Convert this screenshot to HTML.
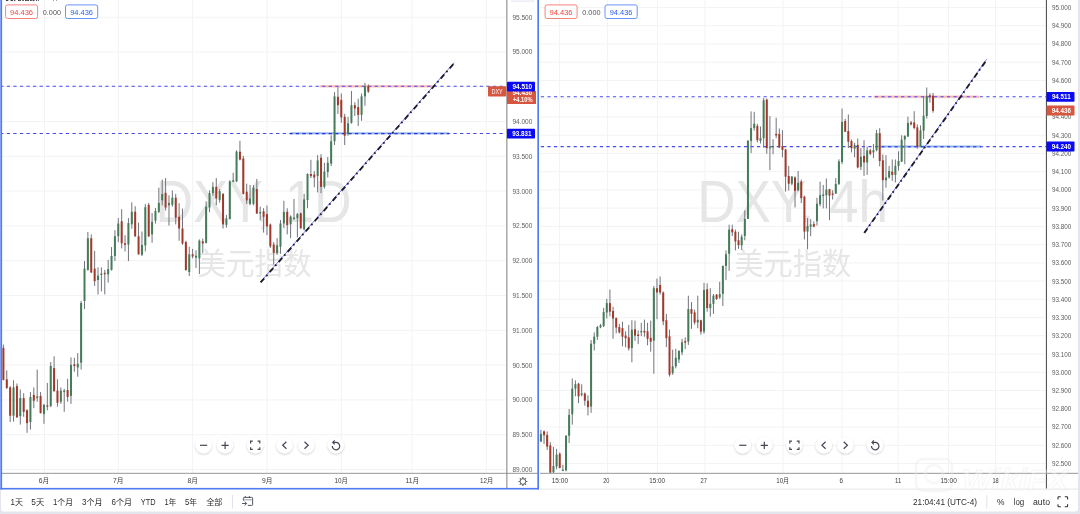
<!DOCTYPE html>
<html lang="zh"><head><meta charset="utf-8"><title>DXY</title>
<style>
html,body{margin:0;padding:0;background:#fff;}
body{width:1080px;height:514px;overflow:hidden;position:relative;}
svg{display:block;position:absolute;left:0;top:0;will-change:transform;}
text{font-family:"Liberation Sans","Noto Sans CJK SC",sans-serif;}
</style></head><body>
<svg width="1080" height="514" viewBox="0 0 1080 514">
<defs>
<filter id="sh" x="-30%" y="-30%" width="160%" height="170%"><feGaussianBlur in="SourceAlpha" stdDeviation="1"/><feOffset dy="0.8"/><feComponentTransfer><feFuncA type="linear" slope="0.22"/></feComponentTransfer><feMerge><feMergeNode/><feMergeNode in="SourceGraphic"/></feMerge></filter>
<filter id="bl"><feGaussianBlur stdDeviation="0.35"/></filter>
<clipPath id="cl1"><rect x="290" y="130" width="159" height="6"/></clipPath><clipPath id="cl2"><rect x="878.6" y="143" width="103" height="6"/></clipPath>
</defs>
<rect x="0" y="0" width="1080" height="514" fill="#e3e6ec"/>
<path d="M0 0H1078V508.5a3 3 0 0 1-3 3H4a3 3 0 0 1-3-3V490H0Z" fill="#fff"/>

<g id="left">
<rect x="44.0" y="0" width="1" height="473" fill="#f3f3f3"/>
<rect x="117.8" y="0" width="1" height="473" fill="#f3f3f3"/>
<rect x="192.1" y="0" width="1" height="473" fill="#f3f3f3"/>
<rect x="266.6" y="0" width="1" height="473" fill="#f3f3f3"/>
<rect x="340.8" y="0" width="1" height="473" fill="#f3f3f3"/>
<rect x="411.6" y="0" width="1" height="473" fill="#f3f3f3"/>
<rect x="485.8" y="0" width="1" height="473" fill="#f3f3f3"/>
<rect x="2" y="16.7" width="504" height="1" fill="#f3f3f3"/>
<rect x="2" y="51.5" width="504" height="1" fill="#f3f3f3"/>
<rect x="2" y="86.3" width="504" height="1" fill="#f3f3f3"/>
<rect x="2" y="121.1" width="504" height="1" fill="#f3f3f3"/>
<rect x="2" y="155.9" width="504" height="1" fill="#f3f3f3"/>
<rect x="2" y="190.6" width="504" height="1" fill="#f3f3f3"/>
<rect x="2" y="225.4" width="504" height="1" fill="#f3f3f3"/>
<rect x="2" y="260.2" width="504" height="1" fill="#f3f3f3"/>
<rect x="2" y="295.0" width="504" height="1" fill="#f3f3f3"/>
<rect x="2" y="329.8" width="504" height="1" fill="#f3f3f3"/>
<rect x="2" y="364.6" width="504" height="1" fill="#f3f3f3"/>
<rect x="2" y="399.4" width="504" height="1" fill="#f3f3f3"/>
<rect x="2" y="434.2" width="504" height="1" fill="#f3f3f3"/>
<rect x="2" y="469.0" width="504" height="1" fill="#f3f3f3"/>
<text x="155.6" y="222" font-size="59" fill="#e6e6e6" text-anchor="start" font-weight="normal" textLength="196" lengthAdjust="spacingAndGlyphs">DXY, 1D</text>
<text x="197.6" y="274.2" font-size="30" fill="#e6e6e6" text-anchor="start" font-weight="normal" textLength="114" lengthAdjust="spacingAndGlyphs">美元指数</text>
<rect x="319.5" y="85.2" width="114.5" height="2.2" fill="#fbb9b3"/>
<line x1="2" y1="86.3" x2="506" y2="86.3" stroke="#4848f2" stroke-width="1.05" stroke-dasharray="3.3 3.27" stroke-dashoffset="-4.73"/>
<line x1="2" y1="133.4" x2="506" y2="133.4" stroke="#4848f2" stroke-width="1.05" stroke-dasharray="3.3 3.27" stroke-dashoffset="-4.73"/>
<rect x="290" y="132.3" width="159" height="2.0" fill="#8db6ee"/>
<line x1="2" y1="133.6" x2="449" y2="133.6" stroke="#2f2fe0" stroke-width="1.1" stroke-dasharray="3.3 3.27" stroke-dashoffset="-4.73" clip-path="url(#cl1)"/>
<rect x="2.90" y="344.6" width="1" height="35.8" fill="#70747b"/>
<rect x="2.40" y="347.8" width="2.0" height="32.1" fill="#a3382a"/>
<rect x="6.28" y="370.3" width="1" height="18.6" fill="#70747b"/>
<rect x="5.78" y="379.3" width="2.0" height="8.6" fill="#a3382a"/>
<rect x="9.66" y="386.1" width="1" height="36.0" fill="#70747b"/>
<rect x="9.16" y="387.4" width="2.0" height="28.3" fill="#a3382a"/>
<rect x="13.04" y="380.3" width="1" height="41.3" fill="#70747b"/>
<rect x="12.54" y="387.4" width="2.0" height="28.3" fill="#447c5a"/>
<rect x="16.42" y="383.5" width="1" height="34.3" fill="#70747b"/>
<rect x="15.92" y="386.1" width="2.0" height="31.3" fill="#a3382a"/>
<rect x="19.79" y="389.5" width="1" height="35.1" fill="#70747b"/>
<rect x="19.29" y="398.1" width="2.0" height="18.0" fill="#447c5a"/>
<rect x="23.17" y="393.2" width="1" height="23.6" fill="#70747b"/>
<rect x="22.67" y="398.1" width="2.0" height="13.7" fill="#a3382a"/>
<rect x="26.55" y="409.2" width="1" height="23.6" fill="#70747b"/>
<rect x="26.05" y="410.3" width="2.0" height="12.8" fill="#a3382a"/>
<rect x="29.93" y="392.1" width="1" height="37.5" fill="#70747b"/>
<rect x="29.43" y="397.0" width="2.0" height="25.1" fill="#447c5a"/>
<rect x="33.31" y="387.4" width="1" height="20.8" fill="#70747b"/>
<rect x="32.81" y="394.9" width="2.0" height="5.8" fill="#a3382a"/>
<rect x="36.69" y="369.6" width="1" height="32.1" fill="#70747b"/>
<rect x="36.19" y="396.4" width="2.0" height="1.7" fill="#447c5a"/>
<rect x="40.07" y="392.1" width="1" height="21.4" fill="#70747b"/>
<rect x="39.57" y="396.0" width="2.0" height="17.1" fill="#a3382a"/>
<rect x="43.45" y="403.9" width="1" height="19.9" fill="#70747b"/>
<rect x="42.95" y="404.9" width="2.0" height="9.2" fill="#447c5a"/>
<rect x="46.83" y="382.9" width="1" height="27.4" fill="#70747b"/>
<rect x="46.33" y="405.4" width="2.0" height="1.3" fill="#a3382a"/>
<rect x="50.21" y="362.1" width="1" height="45.0" fill="#70747b"/>
<rect x="49.71" y="366.0" width="2.0" height="40.0" fill="#447c5a"/>
<rect x="53.59" y="356.3" width="1" height="35.8" fill="#70747b"/>
<rect x="53.09" y="368.1" width="2.0" height="22.9" fill="#a3382a"/>
<rect x="56.96" y="379.3" width="1" height="27.4" fill="#70747b"/>
<rect x="56.46" y="390.6" width="2.0" height="12.2" fill="#a3382a"/>
<rect x="60.34" y="387.4" width="1" height="16.5" fill="#70747b"/>
<rect x="59.84" y="390.6" width="2.0" height="11.1" fill="#447c5a"/>
<rect x="63.72" y="388.9" width="1" height="22.9" fill="#70747b"/>
<rect x="63.22" y="390.6" width="2.0" height="1.5" fill="#447c5a"/>
<rect x="67.10" y="378.8" width="1" height="22.9" fill="#70747b"/>
<rect x="66.60" y="390.0" width="2.0" height="6.9" fill="#a3382a"/>
<rect x="70.48" y="357.4" width="1" height="46.5" fill="#70747b"/>
<rect x="69.98" y="364.9" width="2.0" height="31.0" fill="#447c5a"/>
<rect x="73.86" y="357.8" width="1" height="13.9" fill="#70747b"/>
<rect x="73.36" y="364.3" width="2.0" height="1.7" fill="#a3382a"/>
<rect x="77.24" y="353.1" width="1" height="23.6" fill="#70747b"/>
<rect x="76.74" y="363.8" width="2.0" height="3.6" fill="#447c5a"/>
<rect x="80.62" y="301.0" width="1" height="68.6" fill="#70747b"/>
<rect x="80.12" y="303.0" width="2.0" height="59.7" fill="#447c5a"/>
<rect x="84.00" y="261.0" width="1" height="48.0" fill="#70747b"/>
<rect x="83.50" y="268.6" width="2.0" height="32.4" fill="#447c5a"/>
<rect x="87.38" y="232.0" width="1" height="38.7" fill="#70747b"/>
<rect x="86.88" y="238.3" width="2.0" height="31.6" fill="#447c5a"/>
<rect x="90.75" y="234.5" width="1" height="38.7" fill="#70747b"/>
<rect x="90.25" y="238.3" width="2.0" height="34.1" fill="#a3382a"/>
<rect x="94.13" y="250.9" width="1" height="34.9" fill="#70747b"/>
<rect x="93.63" y="268.6" width="2.0" height="12.6" fill="#a3382a"/>
<rect x="97.51" y="267.4" width="1" height="27.1" fill="#70747b"/>
<rect x="97.01" y="275.7" width="2.0" height="4.3" fill="#447c5a"/>
<rect x="100.89" y="267.4" width="1" height="24.0" fill="#70747b"/>
<rect x="100.39" y="273.7" width="2.0" height="1.3" fill="#447c5a"/>
<rect x="104.27" y="269.9" width="1" height="24.5" fill="#70747b"/>
<rect x="103.77" y="272.9" width="2.0" height="1.3" fill="#a3382a"/>
<rect x="107.65" y="259.8" width="1" height="22.8" fill="#70747b"/>
<rect x="107.15" y="269.1" width="2.0" height="5.3" fill="#447c5a"/>
<rect x="111.03" y="247.1" width="1" height="23.5" fill="#70747b"/>
<rect x="110.53" y="256.0" width="2.0" height="13.9" fill="#447c5a"/>
<rect x="114.41" y="230.2" width="1" height="30.9" fill="#70747b"/>
<rect x="113.91" y="236.3" width="2.0" height="19.7" fill="#447c5a"/>
<rect x="117.79" y="218.1" width="1" height="24.0" fill="#70747b"/>
<rect x="117.29" y="223.6" width="2.0" height="12.6" fill="#447c5a"/>
<rect x="121.17" y="209.2" width="1" height="39.2" fill="#70747b"/>
<rect x="120.67" y="221.3" width="2.0" height="22.0" fill="#a3382a"/>
<rect x="124.54" y="235.3" width="1" height="16.2" fill="#70747b"/>
<rect x="124.04" y="243.3" width="2.0" height="1.5" fill="#a3382a"/>
<rect x="127.92" y="218.1" width="1" height="43.0" fill="#70747b"/>
<rect x="127.42" y="223.1" width="2.0" height="21.5" fill="#447c5a"/>
<rect x="131.30" y="202.4" width="1" height="26.3" fill="#70747b"/>
<rect x="130.80" y="211.7" width="2.0" height="12.6" fill="#447c5a"/>
<rect x="134.68" y="206.2" width="1" height="30.9" fill="#70747b"/>
<rect x="134.18" y="211.7" width="2.0" height="24.5" fill="#a3382a"/>
<rect x="138.06" y="222.6" width="1" height="32.1" fill="#70747b"/>
<rect x="137.56" y="236.3" width="2.0" height="18.0" fill="#a3382a"/>
<rect x="141.44" y="231.5" width="1" height="24.5" fill="#70747b"/>
<rect x="140.94" y="244.9" width="2.0" height="9.9" fill="#447c5a"/>
<rect x="144.82" y="204.1" width="1" height="47.3" fill="#70747b"/>
<rect x="144.32" y="207.2" width="2.0" height="38.2" fill="#447c5a"/>
<rect x="148.20" y="202.9" width="1" height="34.1" fill="#70747b"/>
<rect x="147.70" y="204.9" width="2.0" height="31.4" fill="#a3382a"/>
<rect x="151.58" y="213.0" width="1" height="29.8" fill="#70747b"/>
<rect x="151.08" y="221.8" width="2.0" height="12.6" fill="#447c5a"/>
<rect x="154.96" y="207.9" width="1" height="15.7" fill="#70747b"/>
<rect x="154.46" y="211.0" width="2.0" height="9.6" fill="#447c5a"/>
<rect x="158.33" y="187.7" width="1" height="25.3" fill="#70747b"/>
<rect x="157.83" y="202.9" width="2.0" height="8.9" fill="#447c5a"/>
<rect x="161.71" y="179.6" width="1" height="25.8" fill="#70747b"/>
<rect x="161.21" y="194.0" width="2.0" height="6.3" fill="#447c5a"/>
<rect x="165.09" y="178.1" width="1" height="32.4" fill="#70747b"/>
<rect x="164.59" y="192.8" width="2.0" height="14.7" fill="#a3382a"/>
<rect x="168.47" y="195.3" width="1" height="30.3" fill="#70747b"/>
<rect x="167.97" y="202.9" width="2.0" height="2.5" fill="#447c5a"/>
<rect x="171.85" y="190.4" width="1" height="16.3" fill="#70747b"/>
<rect x="171.35" y="197.7" width="2.0" height="7.1" fill="#447c5a"/>
<rect x="175.23" y="193.9" width="1" height="30.5" fill="#70747b"/>
<rect x="174.73" y="197.7" width="2.0" height="19.9" fill="#a3382a"/>
<rect x="178.61" y="203.2" width="1" height="37.6" fill="#70747b"/>
<rect x="178.11" y="216.8" width="2.0" height="11.7" fill="#a3382a"/>
<rect x="181.99" y="208.6" width="1" height="36.2" fill="#70747b"/>
<rect x="181.49" y="228.5" width="2.0" height="15.0" fill="#a3382a"/>
<rect x="185.37" y="240.7" width="1" height="29.9" fill="#70747b"/>
<rect x="184.87" y="242.1" width="2.0" height="28.0" fill="#a3382a"/>
<rect x="188.75" y="246.7" width="1" height="29.4" fill="#70747b"/>
<rect x="188.25" y="254.3" width="2.0" height="17.7" fill="#447c5a"/>
<rect x="192.12" y="248.9" width="1" height="9.5" fill="#70747b"/>
<rect x="191.62" y="254.3" width="2.0" height="2.2" fill="#a3382a"/>
<rect x="195.50" y="250.3" width="1" height="17.7" fill="#70747b"/>
<rect x="195.00" y="255.7" width="2.0" height="1.9" fill="#447c5a"/>
<rect x="198.88" y="239.4" width="1" height="34.6" fill="#70747b"/>
<rect x="198.38" y="240.7" width="2.0" height="17.7" fill="#447c5a"/>
<rect x="202.26" y="238.6" width="1" height="14.4" fill="#70747b"/>
<rect x="201.76" y="241.3" width="2.0" height="2.2" fill="#a3382a"/>
<rect x="205.64" y="201.3" width="1" height="42.2" fill="#70747b"/>
<rect x="205.14" y="206.7" width="2.0" height="36.2" fill="#447c5a"/>
<rect x="209.02" y="190.4" width="1" height="21.8" fill="#70747b"/>
<rect x="208.52" y="193.1" width="2.0" height="14.4" fill="#447c5a"/>
<rect x="212.40" y="182.2" width="1" height="13.6" fill="#70747b"/>
<rect x="211.90" y="186.8" width="2.0" height="6.3" fill="#447c5a"/>
<rect x="215.78" y="178.1" width="1" height="27.2" fill="#70747b"/>
<rect x="215.28" y="186.8" width="2.0" height="11.7" fill="#a3382a"/>
<rect x="219.16" y="189.0" width="1" height="13.6" fill="#70747b"/>
<rect x="218.66" y="191.2" width="2.0" height="8.7" fill="#447c5a"/>
<rect x="222.53" y="193.1" width="1" height="35.4" fill="#70747b"/>
<rect x="222.03" y="193.9" width="2.0" height="30.5" fill="#a3382a"/>
<rect x="225.91" y="214.9" width="1" height="12.8" fill="#70747b"/>
<rect x="225.41" y="218.4" width="2.0" height="6.5" fill="#447c5a"/>
<rect x="229.29" y="180.3" width="1" height="39.2" fill="#70747b"/>
<rect x="228.79" y="181.4" width="2.0" height="37.6" fill="#447c5a"/>
<rect x="232.67" y="172.7" width="1" height="9.5" fill="#70747b"/>
<rect x="232.17" y="180.3" width="2.0" height="1.4" fill="#447c5a"/>
<rect x="236.05" y="150.3" width="1" height="31.9" fill="#70747b"/>
<rect x="235.55" y="151.7" width="2.0" height="29.7" fill="#447c5a"/>
<rect x="239.43" y="140.8" width="1" height="19.6" fill="#70747b"/>
<rect x="238.93" y="151.7" width="2.0" height="7.9" fill="#a3382a"/>
<rect x="242.81" y="155.8" width="1" height="38.7" fill="#70747b"/>
<rect x="242.31" y="158.5" width="2.0" height="35.4" fill="#a3382a"/>
<rect x="246.19" y="183.6" width="1" height="20.4" fill="#70747b"/>
<rect x="245.69" y="191.7" width="2.0" height="8.7" fill="#a3382a"/>
<rect x="249.57" y="184.9" width="1" height="20.4" fill="#70747b"/>
<rect x="249.07" y="198.5" width="2.0" height="5.4" fill="#447c5a"/>
<rect x="252.95" y="184.9" width="1" height="20.4" fill="#70747b"/>
<rect x="252.45" y="187.6" width="2.0" height="16.3" fill="#447c5a"/>
<rect x="256.32" y="178.9" width="1" height="35.1" fill="#70747b"/>
<rect x="255.82" y="189.0" width="2.0" height="24.5" fill="#a3382a"/>
<rect x="259.70" y="206.7" width="1" height="13.6" fill="#70747b"/>
<rect x="259.20" y="212.1" width="2.0" height="1.4" fill="#447c5a"/>
<rect x="263.08" y="208.1" width="1" height="24.5" fill="#70747b"/>
<rect x="262.58" y="211.3" width="2.0" height="5.4" fill="#a3382a"/>
<rect x="266.46" y="205.5" width="1" height="29.6" fill="#70747b"/>
<rect x="265.96" y="214.1" width="2.0" height="12.4" fill="#a3382a"/>
<rect x="269.84" y="223.5" width="1" height="24.5" fill="#70747b"/>
<rect x="269.34" y="224.6" width="2.0" height="21.7" fill="#a3382a"/>
<rect x="273.22" y="242.1" width="1" height="22.6" fill="#70747b"/>
<rect x="272.72" y="244.5" width="2.0" height="8.2" fill="#a3382a"/>
<rect x="276.60" y="238.2" width="1" height="16.8" fill="#70747b"/>
<rect x="276.10" y="245.2" width="2.0" height="7.9" fill="#447c5a"/>
<rect x="279.98" y="220.0" width="1" height="33.8" fill="#70747b"/>
<rect x="279.48" y="223.5" width="2.0" height="23.3" fill="#447c5a"/>
<rect x="283.36" y="200.8" width="1" height="27.3" fill="#70747b"/>
<rect x="282.86" y="211.8" width="2.0" height="11.7" fill="#447c5a"/>
<rect x="286.74" y="208.3" width="1" height="26.1" fill="#70747b"/>
<rect x="286.24" y="211.8" width="2.0" height="13.3" fill="#a3382a"/>
<rect x="290.11" y="215.3" width="1" height="22.9" fill="#70747b"/>
<rect x="289.61" y="216.5" width="2.0" height="7.7" fill="#447c5a"/>
<rect x="293.49" y="199.0" width="1" height="21.0" fill="#70747b"/>
<rect x="292.99" y="217.5" width="2.0" height="1.2" fill="#447c5a"/>
<rect x="296.87" y="213.0" width="1" height="24.5" fill="#70747b"/>
<rect x="296.37" y="214.1" width="2.0" height="4.0" fill="#447c5a"/>
<rect x="300.25" y="212.5" width="1" height="16.8" fill="#70747b"/>
<rect x="299.75" y="213.4" width="2.0" height="14.7" fill="#a3382a"/>
<rect x="303.63" y="193.8" width="1" height="36.6" fill="#70747b"/>
<rect x="303.13" y="199.4" width="2.0" height="29.9" fill="#447c5a"/>
<rect x="307.01" y="173.3" width="1" height="35.0" fill="#70747b"/>
<rect x="306.51" y="174.0" width="2.0" height="26.1" fill="#447c5a"/>
<rect x="310.39" y="159.8" width="1" height="18.2" fill="#70747b"/>
<rect x="309.89" y="174.0" width="2.0" height="2.1" fill="#a3382a"/>
<rect x="313.77" y="171.0" width="1" height="16.3" fill="#70747b"/>
<rect x="313.27" y="174.5" width="2.0" height="3.0" fill="#a3382a"/>
<rect x="317.15" y="155.1" width="1" height="37.3" fill="#70747b"/>
<rect x="316.65" y="160.5" width="2.0" height="15.6" fill="#447c5a"/>
<rect x="320.53" y="154.2" width="1" height="39.0" fill="#70747b"/>
<rect x="320.03" y="157.7" width="2.0" height="29.2" fill="#a3382a"/>
<rect x="323.90" y="162.8" width="1" height="25.7" fill="#70747b"/>
<rect x="323.40" y="171.5" width="2.0" height="15.4" fill="#447c5a"/>
<rect x="327.28" y="157.0" width="1" height="20.5" fill="#70747b"/>
<rect x="326.78" y="162.8" width="2.0" height="9.3" fill="#447c5a"/>
<rect x="330.66" y="135.3" width="1" height="30.8" fill="#70747b"/>
<rect x="330.16" y="141.2" width="2.0" height="22.4" fill="#447c5a"/>
<rect x="334.04" y="92.1" width="1" height="52.9" fill="#70747b"/>
<rect x="333.54" y="96.4" width="2.0" height="44.8" fill="#447c5a"/>
<rect x="337.42" y="87.1" width="1" height="26.9" fill="#70747b"/>
<rect x="336.92" y="96.8" width="2.0" height="8.4" fill="#a3382a"/>
<rect x="340.80" y="93.5" width="1" height="29.2" fill="#70747b"/>
<rect x="340.30" y="99.9" width="2.0" height="17.5" fill="#a3382a"/>
<rect x="344.18" y="113.9" width="1" height="31.1" fill="#70747b"/>
<rect x="343.68" y="116.8" width="2.0" height="18.9" fill="#a3382a"/>
<rect x="347.56" y="116.8" width="1" height="18.9" fill="#70747b"/>
<rect x="347.06" y="123.3" width="2.0" height="10.5" fill="#447c5a"/>
<rect x="350.94" y="91.0" width="1" height="32.7" fill="#70747b"/>
<rect x="350.44" y="105.2" width="2.0" height="17.5" fill="#447c5a"/>
<rect x="354.32" y="102.3" width="1" height="13.6" fill="#70747b"/>
<rect x="353.82" y="105.2" width="2.0" height="3.3" fill="#a3382a"/>
<rect x="357.69" y="98.7" width="1" height="27.3" fill="#70747b"/>
<rect x="357.19" y="107.1" width="2.0" height="7.8" fill="#a3382a"/>
<rect x="361.07" y="93.5" width="1" height="27.3" fill="#70747b"/>
<rect x="360.57" y="96.4" width="2.0" height="18.5" fill="#447c5a"/>
<rect x="364.45" y="82.8" width="1" height="23.0" fill="#70747b"/>
<rect x="363.95" y="86.3" width="2.0" height="10.1" fill="#447c5a"/>
<rect x="367.83" y="84.3" width="1" height="8.6" fill="#70747b"/>
<rect x="367.33" y="86.3" width="2.0" height="5.3" fill="#a3382a"/>
<line x1="260.3" y1="282.1" x2="454.2" y2="62.6" stroke="#7575f6" stroke-width="1.0"/>
<line x1="260.6" y1="282.4" x2="454.5" y2="62.9" stroke="#1c1c28" stroke-width="1.85" stroke-dasharray="5.5 3.0 1.7 3.4"/>
</g>
<g id="right">
<rect x="559.0" y="0" width="1" height="473" fill="#f3f3f3"/>
<rect x="607.0" y="0" width="1" height="473" fill="#f3f3f3"/>
<rect x="657.0" y="0" width="1" height="473" fill="#f3f3f3"/>
<rect x="704.5" y="0" width="1" height="473" fill="#f3f3f3"/>
<rect x="782.5" y="0" width="1" height="473" fill="#f3f3f3"/>
<rect x="841.5" y="0" width="1" height="473" fill="#f3f3f3"/>
<rect x="897.6" y="0" width="1" height="473" fill="#f3f3f3"/>
<rect x="948.1" y="0" width="1" height="473" fill="#f3f3f3"/>
<rect x="995.0" y="0" width="1" height="473" fill="#f3f3f3"/>
<rect x="540" y="7.0" width="506" height="1" fill="#f3f3f3"/>
<rect x="540" y="25.2" width="506" height="1" fill="#f3f3f3"/>
<rect x="540" y="43.5" width="506" height="1" fill="#f3f3f3"/>
<rect x="540" y="61.7" width="506" height="1" fill="#f3f3f3"/>
<rect x="540" y="80.0" width="506" height="1" fill="#f3f3f3"/>
<rect x="540" y="98.2" width="506" height="1" fill="#f3f3f3"/>
<rect x="540" y="116.4" width="506" height="1" fill="#f3f3f3"/>
<rect x="540" y="134.7" width="506" height="1" fill="#f3f3f3"/>
<rect x="540" y="152.9" width="506" height="1" fill="#f3f3f3"/>
<rect x="540" y="171.2" width="506" height="1" fill="#f3f3f3"/>
<rect x="540" y="189.4" width="506" height="1" fill="#f3f3f3"/>
<rect x="540" y="207.6" width="506" height="1" fill="#f3f3f3"/>
<rect x="540" y="225.9" width="506" height="1" fill="#f3f3f3"/>
<rect x="540" y="244.1" width="506" height="1" fill="#f3f3f3"/>
<rect x="540" y="262.4" width="506" height="1" fill="#f3f3f3"/>
<rect x="540" y="280.6" width="506" height="1" fill="#f3f3f3"/>
<rect x="540" y="298.8" width="506" height="1" fill="#f3f3f3"/>
<rect x="540" y="317.1" width="506" height="1" fill="#f3f3f3"/>
<rect x="540" y="335.3" width="506" height="1" fill="#f3f3f3"/>
<rect x="540" y="353.6" width="506" height="1" fill="#f3f3f3"/>
<rect x="540" y="371.8" width="506" height="1" fill="#f3f3f3"/>
<rect x="540" y="390.0" width="506" height="1" fill="#f3f3f3"/>
<rect x="540" y="408.3" width="506" height="1" fill="#f3f3f3"/>
<rect x="540" y="426.5" width="506" height="1" fill="#f3f3f3"/>
<rect x="540" y="444.8" width="506" height="1" fill="#f3f3f3"/>
<rect x="540" y="463.0" width="506" height="1" fill="#f3f3f3"/>
<text x="697.3" y="222" font-size="59" fill="#e6e6e6" text-anchor="start" font-weight="normal" textLength="190.8" lengthAdjust="spacingAndGlyphs">DXY, 4h</text>
<text x="734.3" y="274.2" font-size="30" fill="#e6e6e6" text-anchor="start" font-weight="normal" textLength="116.8" lengthAdjust="spacingAndGlyphs">美元指数</text>
<rect x="873.7" y="95.6" width="105.6" height="2.2" fill="#fbb9b3"/>
<line x1="540" y1="96.7" x2="1046" y2="96.7" stroke="#4848f2" stroke-width="1.05" stroke-dasharray="3.2 3.35" stroke-dashoffset="-0.87"/>
<line x1="540" y1="146.6" x2="1046" y2="146.6" stroke="#4848f2" stroke-width="1.05" stroke-dasharray="3.2 3.35" stroke-dashoffset="-0.87"/>
<rect x="878.6" y="145.5" width="103" height="2.0" fill="#8db6ee"/>
<line x1="540" y1="146.8" x2="981.6" y2="146.8" stroke="#2f2fe0" stroke-width="1.1" stroke-dasharray="3.2 3.35" stroke-dashoffset="-0.87" clip-path="url(#cl2)"/>
<rect x="540.40" y="429.8" width="1" height="12.2" fill="#70747b"/>
<rect x="539.90" y="433.9" width="2.0" height="7.6" fill="#447c5a"/>
<rect x="543.54" y="430.4" width="1" height="13.6" fill="#70747b"/>
<rect x="543.04" y="431.4" width="2.0" height="3.9" fill="#a3382a"/>
<rect x="546.67" y="431.4" width="1" height="18.5" fill="#70747b"/>
<rect x="546.17" y="434.9" width="2.0" height="11.7" fill="#a3382a"/>
<rect x="549.81" y="442.1" width="1" height="31.1" fill="#70747b"/>
<rect x="549.31" y="445.4" width="2.0" height="27.2" fill="#a3382a"/>
<rect x="552.95" y="446.9" width="1" height="26.2" fill="#70747b"/>
<rect x="552.45" y="466.0" width="2.0" height="6.2" fill="#447c5a"/>
<rect x="556.08" y="448.9" width="1" height="20.4" fill="#70747b"/>
<rect x="555.58" y="454.7" width="2.0" height="11.7" fill="#447c5a"/>
<rect x="559.22" y="452.4" width="1" height="15.9" fill="#70747b"/>
<rect x="558.72" y="453.7" width="2.0" height="14.2" fill="#a3382a"/>
<rect x="562.36" y="464.8" width="1" height="6.4" fill="#70747b"/>
<rect x="561.86" y="469.7" width="2.0" height="1.2" fill="#447c5a"/>
<rect x="565.50" y="435.3" width="1" height="36.0" fill="#70747b"/>
<rect x="565.00" y="435.7" width="2.0" height="34.6" fill="#447c5a"/>
<rect x="568.63" y="409.0" width="1" height="34.0" fill="#70747b"/>
<rect x="568.13" y="414.9" width="2.0" height="20.8" fill="#447c5a"/>
<rect x="571.77" y="378.5" width="1" height="46.1" fill="#70747b"/>
<rect x="571.27" y="388.6" width="2.0" height="25.7" fill="#447c5a"/>
<rect x="574.91" y="380.4" width="1" height="15.9" fill="#70747b"/>
<rect x="574.41" y="384.3" width="2.0" height="4.3" fill="#447c5a"/>
<rect x="578.04" y="382.8" width="1" height="20.4" fill="#70747b"/>
<rect x="577.54" y="383.7" width="2.0" height="12.6" fill="#a3382a"/>
<rect x="581.18" y="384.3" width="1" height="12.1" fill="#70747b"/>
<rect x="580.68" y="393.5" width="2.0" height="1.4" fill="#447c5a"/>
<rect x="584.32" y="392.5" width="1" height="13.2" fill="#70747b"/>
<rect x="583.82" y="393.5" width="2.0" height="7.2" fill="#a3382a"/>
<rect x="587.45" y="395.4" width="1" height="20.0" fill="#70747b"/>
<rect x="586.95" y="400.7" width="2.0" height="6.4" fill="#a3382a"/>
<rect x="590.59" y="340.0" width="1" height="72.9" fill="#70747b"/>
<rect x="590.09" y="343.7" width="2.0" height="62.8" fill="#447c5a"/>
<rect x="593.73" y="332.4" width="1" height="18.2" fill="#70747b"/>
<rect x="593.23" y="336.7" width="2.0" height="7.1" fill="#447c5a"/>
<rect x="596.87" y="326.0" width="1" height="13.9" fill="#70747b"/>
<rect x="596.37" y="327.1" width="2.0" height="9.6" fill="#447c5a"/>
<rect x="600.00" y="323.9" width="1" height="4.3" fill="#70747b"/>
<rect x="599.50" y="325.3" width="2.0" height="2.1" fill="#447c5a"/>
<rect x="603.14" y="307.8" width="1" height="19.3" fill="#70747b"/>
<rect x="602.64" y="312.1" width="2.0" height="13.9" fill="#447c5a"/>
<rect x="606.28" y="298.8" width="1" height="19.7" fill="#70747b"/>
<rect x="605.78" y="303.1" width="2.0" height="9.4" fill="#447c5a"/>
<rect x="609.41" y="289.6" width="1" height="26.7" fill="#70747b"/>
<rect x="608.91" y="303.1" width="2.0" height="8.6" fill="#a3382a"/>
<rect x="612.55" y="306.7" width="1" height="32.1" fill="#70747b"/>
<rect x="612.05" y="311.0" width="2.0" height="7.5" fill="#a3382a"/>
<rect x="615.69" y="317.4" width="1" height="16.0" fill="#70747b"/>
<rect x="615.19" y="318.1" width="2.0" height="9.4" fill="#a3382a"/>
<rect x="618.82" y="323.9" width="1" height="9.6" fill="#70747b"/>
<rect x="618.32" y="327.1" width="2.0" height="5.3" fill="#a3382a"/>
<rect x="621.96" y="321.7" width="1" height="24.6" fill="#70747b"/>
<rect x="621.46" y="328.1" width="2.0" height="8.6" fill="#a3382a"/>
<rect x="625.10" y="331.3" width="1" height="16.0" fill="#70747b"/>
<rect x="624.60" y="335.6" width="2.0" height="2.6" fill="#a3382a"/>
<rect x="628.24" y="324.9" width="1" height="25.7" fill="#70747b"/>
<rect x="627.74" y="337.3" width="2.0" height="11.1" fill="#a3382a"/>
<rect x="631.37" y="320.2" width="1" height="42.1" fill="#70747b"/>
<rect x="630.87" y="329.6" width="2.0" height="18.4" fill="#447c5a"/>
<rect x="634.51" y="320.6" width="1" height="20.3" fill="#70747b"/>
<rect x="634.01" y="329.2" width="2.0" height="6.4" fill="#a3382a"/>
<rect x="637.65" y="330.3" width="1" height="13.9" fill="#70747b"/>
<rect x="637.15" y="334.5" width="2.0" height="1.5" fill="#a3382a"/>
<rect x="640.78" y="322.8" width="1" height="13.3" fill="#70747b"/>
<rect x="640.28" y="331.1" width="2.0" height="1.2" fill="#447c5a"/>
<rect x="643.92" y="319.6" width="1" height="17.1" fill="#70747b"/>
<rect x="643.42" y="330.9" width="2.0" height="1.5" fill="#a3382a"/>
<rect x="647.06" y="322.8" width="1" height="22.5" fill="#70747b"/>
<rect x="646.56" y="331.3" width="2.0" height="7.5" fill="#a3382a"/>
<rect x="650.19" y="320.6" width="1" height="31.0" fill="#70747b"/>
<rect x="649.69" y="337.8" width="2.0" height="3.9" fill="#a3382a"/>
<rect x="653.33" y="286.0" width="1" height="87.7" fill="#70747b"/>
<rect x="652.83" y="288.2" width="2.0" height="52.4" fill="#447c5a"/>
<rect x="656.47" y="278.6" width="1" height="40.6" fill="#70747b"/>
<rect x="655.97" y="288.2" width="2.0" height="4.3" fill="#a3382a"/>
<rect x="659.61" y="276.4" width="1" height="18.2" fill="#70747b"/>
<rect x="659.11" y="285.0" width="2.0" height="7.5" fill="#a3382a"/>
<rect x="662.74" y="291.4" width="1" height="33.8" fill="#70747b"/>
<rect x="662.24" y="292.5" width="2.0" height="28.9" fill="#a3382a"/>
<rect x="665.88" y="313.9" width="1" height="33.2" fill="#70747b"/>
<rect x="665.38" y="320.3" width="2.0" height="17.8" fill="#a3382a"/>
<rect x="669.02" y="329.5" width="1" height="47.1" fill="#70747b"/>
<rect x="668.52" y="336.3" width="2.0" height="38.5" fill="#a3382a"/>
<rect x="672.15" y="349.6" width="1" height="25.2" fill="#70747b"/>
<rect x="671.65" y="366.3" width="2.0" height="6.8" fill="#447c5a"/>
<rect x="675.29" y="348.7" width="1" height="19.7" fill="#70747b"/>
<rect x="674.79" y="357.7" width="2.0" height="8.6" fill="#447c5a"/>
<rect x="678.43" y="350.2" width="1" height="12.8" fill="#70747b"/>
<rect x="677.93" y="350.9" width="2.0" height="8.6" fill="#447c5a"/>
<rect x="681.56" y="338.9" width="1" height="16.3" fill="#70747b"/>
<rect x="681.06" y="342.3" width="2.0" height="10.1" fill="#447c5a"/>
<rect x="684.70" y="337.4" width="1" height="11.8" fill="#70747b"/>
<rect x="684.20" y="341.2" width="2.0" height="1.5" fill="#a3382a"/>
<rect x="687.84" y="295.7" width="1" height="49.2" fill="#70747b"/>
<rect x="687.34" y="309.1" width="2.0" height="32.5" fill="#447c5a"/>
<rect x="690.98" y="302.1" width="1" height="26.7" fill="#70747b"/>
<rect x="690.48" y="309.1" width="2.0" height="4.7" fill="#a3382a"/>
<rect x="694.11" y="309.6" width="1" height="15.0" fill="#70747b"/>
<rect x="693.61" y="312.4" width="2.0" height="10.1" fill="#a3382a"/>
<rect x="697.25" y="295.7" width="1" height="32.5" fill="#70747b"/>
<rect x="696.75" y="319.8" width="2.0" height="2.6" fill="#447c5a"/>
<rect x="700.39" y="319.6" width="1" height="15.0" fill="#70747b"/>
<rect x="699.89" y="320.3" width="2.0" height="11.3" fill="#a3382a"/>
<rect x="703.52" y="282.8" width="1" height="50.9" fill="#70747b"/>
<rect x="703.02" y="289.9" width="2.0" height="41.7" fill="#447c5a"/>
<rect x="706.66" y="283.3" width="1" height="28.4" fill="#70747b"/>
<rect x="706.16" y="289.3" width="2.0" height="18.8" fill="#a3382a"/>
<rect x="709.80" y="288.2" width="1" height="28.4" fill="#70747b"/>
<rect x="709.30" y="303.8" width="2.0" height="4.3" fill="#447c5a"/>
<rect x="712.93" y="294.0" width="1" height="19.9" fill="#70747b"/>
<rect x="712.43" y="295.7" width="2.0" height="8.1" fill="#447c5a"/>
<rect x="716.07" y="294.0" width="1" height="6.0" fill="#70747b"/>
<rect x="715.57" y="294.6" width="2.0" height="4.3" fill="#a3382a"/>
<rect x="719.21" y="281.8" width="1" height="17.1" fill="#70747b"/>
<rect x="718.71" y="294.2" width="2.0" height="3.2" fill="#447c5a"/>
<rect x="722.35" y="265.4" width="1" height="40.6" fill="#70747b"/>
<rect x="721.85" y="266.0" width="2.0" height="27.8" fill="#447c5a"/>
<rect x="725.48" y="250.4" width="1" height="29.5" fill="#70747b"/>
<rect x="724.98" y="254.2" width="2.0" height="11.8" fill="#447c5a"/>
<rect x="728.62" y="224.7" width="1" height="46.2" fill="#70747b"/>
<rect x="728.12" y="229.6" width="2.0" height="24.2" fill="#447c5a"/>
<rect x="731.76" y="224.7" width="1" height="11.3" fill="#70747b"/>
<rect x="731.26" y="229.2" width="2.0" height="3.2" fill="#a3382a"/>
<rect x="734.89" y="229.6" width="1" height="20.8" fill="#70747b"/>
<rect x="734.39" y="231.7" width="2.0" height="9.6" fill="#a3382a"/>
<rect x="738.03" y="231.7" width="1" height="17.1" fill="#70747b"/>
<rect x="737.53" y="240.3" width="2.0" height="4.9" fill="#a3382a"/>
<rect x="741.17" y="234.5" width="1" height="15.4" fill="#70747b"/>
<rect x="740.67" y="236.7" width="2.0" height="8.6" fill="#447c5a"/>
<rect x="744.30" y="210.3" width="1" height="30.0" fill="#70747b"/>
<rect x="743.80" y="218.9" width="2.0" height="17.1" fill="#447c5a"/>
<rect x="747.44" y="140.0" width="1" height="79.0" fill="#70747b"/>
<rect x="746.94" y="140.9" width="2.0" height="78.0" fill="#447c5a"/>
<rect x="750.58" y="111.4" width="1" height="41.7" fill="#70747b"/>
<rect x="750.08" y="128.1" width="2.0" height="12.8" fill="#447c5a"/>
<rect x="753.72" y="111.8" width="1" height="18.8" fill="#70747b"/>
<rect x="753.22" y="123.8" width="2.0" height="4.3" fill="#447c5a"/>
<rect x="756.85" y="123.8" width="1" height="18.6" fill="#70747b"/>
<rect x="756.35" y="125.9" width="2.0" height="14.3" fill="#a3382a"/>
<rect x="759.99" y="126.4" width="1" height="17.1" fill="#70747b"/>
<rect x="759.49" y="138.1" width="2.0" height="2.8" fill="#447c5a"/>
<rect x="763.13" y="98.1" width="1" height="49.6" fill="#70747b"/>
<rect x="762.63" y="100.3" width="2.0" height="37.9" fill="#447c5a"/>
<rect x="766.26" y="98.6" width="1" height="55.2" fill="#70747b"/>
<rect x="765.76" y="99.6" width="2.0" height="48.6" fill="#a3382a"/>
<rect x="769.40" y="116.1" width="1" height="54.1" fill="#70747b"/>
<rect x="768.90" y="147.2" width="2.0" height="1.2" fill="#447c5a"/>
<rect x="772.54" y="139.2" width="1" height="15.0" fill="#70747b"/>
<rect x="772.04" y="146.0" width="2.0" height="1.3" fill="#447c5a"/>
<rect x="775.67" y="117.8" width="1" height="20.3" fill="#70747b"/>
<rect x="775.17" y="133.9" width="2.0" height="1.5" fill="#a3382a"/>
<rect x="778.81" y="128.5" width="1" height="19.7" fill="#70747b"/>
<rect x="778.31" y="133.9" width="2.0" height="13.5" fill="#a3382a"/>
<rect x="781.95" y="130.2" width="1" height="27.2" fill="#70747b"/>
<rect x="781.45" y="146.0" width="2.0" height="3.9" fill="#a3382a"/>
<rect x="785.09" y="148.8" width="1" height="42.8" fill="#70747b"/>
<rect x="784.59" y="149.5" width="2.0" height="27.2" fill="#a3382a"/>
<rect x="788.22" y="165.9" width="1" height="24.6" fill="#70747b"/>
<rect x="787.72" y="176.0" width="2.0" height="7.7" fill="#a3382a"/>
<rect x="791.36" y="176.0" width="1" height="9.2" fill="#70747b"/>
<rect x="790.86" y="176.6" width="2.0" height="7.1" fill="#447c5a"/>
<rect x="794.50" y="176.4" width="1" height="31.0" fill="#70747b"/>
<rect x="794.00" y="177.4" width="2.0" height="13.5" fill="#a3382a"/>
<rect x="797.63" y="171.0" width="1" height="20.3" fill="#70747b"/>
<rect x="797.13" y="182.8" width="2.0" height="7.5" fill="#447c5a"/>
<rect x="800.77" y="179.6" width="1" height="23.5" fill="#70747b"/>
<rect x="800.27" y="181.7" width="2.0" height="16.5" fill="#a3382a"/>
<rect x="803.91" y="195.6" width="1" height="43.9" fill="#70747b"/>
<rect x="803.41" y="196.7" width="2.0" height="34.9" fill="#a3382a"/>
<rect x="807.04" y="218.1" width="1" height="31.0" fill="#70747b"/>
<rect x="806.54" y="226.0" width="2.0" height="5.6" fill="#447c5a"/>
<rect x="810.18" y="219.1" width="1" height="17.1" fill="#70747b"/>
<rect x="809.68" y="224.5" width="2.0" height="2.1" fill="#447c5a"/>
<rect x="813.32" y="221.3" width="1" height="6.0" fill="#70747b"/>
<rect x="812.82" y="224.1" width="2.0" height="2.6" fill="#a3382a"/>
<rect x="816.46" y="197.8" width="1" height="27.8" fill="#70747b"/>
<rect x="815.96" y="203.7" width="2.0" height="17.5" fill="#447c5a"/>
<rect x="819.59" y="181.7" width="1" height="24.6" fill="#70747b"/>
<rect x="819.09" y="195.2" width="2.0" height="9.0" fill="#447c5a"/>
<rect x="822.73" y="184.9" width="1" height="23.5" fill="#70747b"/>
<rect x="822.23" y="194.5" width="2.0" height="1.5" fill="#447c5a"/>
<rect x="825.87" y="178.5" width="1" height="29.9" fill="#70747b"/>
<rect x="825.37" y="189.6" width="2.0" height="5.6" fill="#447c5a"/>
<rect x="829.00" y="188.8" width="1" height="31.4" fill="#70747b"/>
<rect x="828.50" y="189.2" width="2.0" height="6.4" fill="#a3382a"/>
<rect x="832.14" y="190.3" width="1" height="9.2" fill="#70747b"/>
<rect x="831.64" y="193.5" width="2.0" height="1.3" fill="#a3382a"/>
<rect x="835.28" y="178.1" width="1" height="15.8" fill="#70747b"/>
<rect x="834.78" y="183.9" width="2.0" height="9.6" fill="#447c5a"/>
<rect x="838.41" y="159.3" width="1" height="25.7" fill="#70747b"/>
<rect x="837.91" y="161.4" width="2.0" height="22.5" fill="#447c5a"/>
<rect x="841.55" y="108.6" width="1" height="55.6" fill="#70747b"/>
<rect x="841.05" y="121.8" width="2.0" height="40.2" fill="#447c5a"/>
<rect x="844.69" y="118.8" width="1" height="13.3" fill="#70747b"/>
<rect x="844.19" y="121.0" width="2.0" height="10.7" fill="#a3382a"/>
<rect x="847.83" y="114.5" width="1" height="33.6" fill="#70747b"/>
<rect x="847.33" y="131.0" width="2.0" height="10.7" fill="#a3382a"/>
<rect x="850.96" y="139.6" width="1" height="12.8" fill="#70747b"/>
<rect x="850.46" y="141.1" width="2.0" height="7.1" fill="#a3382a"/>
<rect x="854.10" y="142.8" width="1" height="14.5" fill="#70747b"/>
<rect x="853.60" y="145.3" width="2.0" height="3.4" fill="#447c5a"/>
<rect x="857.24" y="138.5" width="1" height="29.9" fill="#70747b"/>
<rect x="856.74" y="144.9" width="2.0" height="22.5" fill="#a3382a"/>
<rect x="860.37" y="148.1" width="1" height="22.0" fill="#70747b"/>
<rect x="859.87" y="156.7" width="2.0" height="10.1" fill="#447c5a"/>
<rect x="863.51" y="140.2" width="1" height="35.7" fill="#70747b"/>
<rect x="863.01" y="156.0" width="2.0" height="6.4" fill="#a3382a"/>
<rect x="866.65" y="146.6" width="1" height="28.2" fill="#70747b"/>
<rect x="866.15" y="150.3" width="2.0" height="12.2" fill="#447c5a"/>
<rect x="869.78" y="148.8" width="1" height="6.4" fill="#70747b"/>
<rect x="869.28" y="150.3" width="2.0" height="3.6" fill="#a3382a"/>
<rect x="872.92" y="143.9" width="1" height="14.3" fill="#70747b"/>
<rect x="872.42" y="150.3" width="2.0" height="2.1" fill="#447c5a"/>
<rect x="876.06" y="129.9" width="1" height="21.4" fill="#70747b"/>
<rect x="875.56" y="133.2" width="2.0" height="17.1" fill="#447c5a"/>
<rect x="879.20" y="128.2" width="1" height="38.1" fill="#70747b"/>
<rect x="878.70" y="133.2" width="2.0" height="27.8" fill="#a3382a"/>
<rect x="882.33" y="154.5" width="1" height="46.0" fill="#70747b"/>
<rect x="881.83" y="160.3" width="2.0" height="19.9" fill="#a3382a"/>
<rect x="885.47" y="155.2" width="1" height="32.5" fill="#70747b"/>
<rect x="884.97" y="177.6" width="2.0" height="2.6" fill="#447c5a"/>
<rect x="888.61" y="165.9" width="1" height="12.8" fill="#70747b"/>
<rect x="888.11" y="171.0" width="2.0" height="6.4" fill="#447c5a"/>
<rect x="891.74" y="159.5" width="1" height="21.4" fill="#70747b"/>
<rect x="891.24" y="171.7" width="2.0" height="3.2" fill="#a3382a"/>
<rect x="894.88" y="159.5" width="1" height="22.9" fill="#70747b"/>
<rect x="894.38" y="165.9" width="2.0" height="9.0" fill="#447c5a"/>
<rect x="898.02" y="151.3" width="1" height="19.3" fill="#70747b"/>
<rect x="897.52" y="161.0" width="2.0" height="4.9" fill="#447c5a"/>
<rect x="901.15" y="135.3" width="1" height="26.7" fill="#70747b"/>
<rect x="900.65" y="139.6" width="2.0" height="22.0" fill="#447c5a"/>
<rect x="904.29" y="135.3" width="1" height="28.9" fill="#70747b"/>
<rect x="903.79" y="135.9" width="2.0" height="3.6" fill="#447c5a"/>
<rect x="907.43" y="116.7" width="1" height="20.4" fill="#70747b"/>
<rect x="906.93" y="122.9" width="2.0" height="13.6" fill="#447c5a"/>
<rect x="910.57" y="120.9" width="1" height="4.5" fill="#70747b"/>
<rect x="910.07" y="122.5" width="2.0" height="1.9" fill="#a3382a"/>
<rect x="913.70" y="111.2" width="1" height="18.1" fill="#70747b"/>
<rect x="913.20" y="122.5" width="2.0" height="5.4" fill="#a3382a"/>
<rect x="916.84" y="124.4" width="1" height="24.3" fill="#70747b"/>
<rect x="916.34" y="127.4" width="2.0" height="19.4" fill="#a3382a"/>
<rect x="919.98" y="125.4" width="1" height="21.4" fill="#70747b"/>
<rect x="919.48" y="130.3" width="2.0" height="16.1" fill="#447c5a"/>
<rect x="923.11" y="96.2" width="1" height="42.8" fill="#70747b"/>
<rect x="922.61" y="115.7" width="2.0" height="15.0" fill="#447c5a"/>
<rect x="926.25" y="87.5" width="1" height="31.1" fill="#70747b"/>
<rect x="925.75" y="96.2" width="2.0" height="19.8" fill="#447c5a"/>
<rect x="929.39" y="93.3" width="1" height="9.3" fill="#70747b"/>
<rect x="928.89" y="95.3" width="2.0" height="1.6" fill="#a3382a"/>
<rect x="932.52" y="92.9" width="1" height="19.8" fill="#70747b"/>
<rect x="932.02" y="95.7" width="2.0" height="15.2" fill="#a3382a"/>
<line x1="864.0" y1="232.7" x2="986.6" y2="59.4" stroke="#7575f6" stroke-width="1.0"/>
<line x1="864.3" y1="232.9" x2="986.9" y2="59.6" stroke="#1c1c28" stroke-width="1.85" stroke-dasharray="5.5 3.0 1.7 3.4"/>
</g>
<rect x="507" y="0" width="31" height="488" fill="#fff"/>
<rect x="506.3" y="0" width="1.1" height="488" fill="#8a8a8a"/>
<rect x="2" y="472.85" width="536" height="0.85" fill="#858585"/>
<rect x="511.5" y="-3" width="22.5" height="4.6" rx="1" fill="#f2f4f9" stroke="#e3e6ee" stroke-width="0.6"/>
<rect x="1047" y="0" width="31" height="489" fill="#fff"/>
<rect x="1045.9" y="0" width="1.1" height="489" fill="#555"/>
<rect x="540" y="472.85" width="538" height="0.85" fill="#858585"/>
<rect x="540" y="488.6" width="538" height="1" fill="#e3e6ec"/>
<g opacity="0.38">
<rect x="916" y="459" width="36" height="32" rx="7" fill="none" stroke="#e9e9e9" stroke-width="2.4"/>
<circle cx="934" cy="474" r="9" fill="none" stroke="#efefef" stroke-width="3"/>
<text x="962" y="490" font-size="30" fill="#fff" text-anchor="start" font-weight="bold" textLength="106" lengthAdjust="spacingAndGlyphs" font-style="italic" stroke="#e6e6e6" stroke-width="0.9">WikiFX</text>
</g>
<text x="512.4" y="19.6" font-size="6.6" fill="#606060" text-anchor="start" font-weight="normal" textLength="20" lengthAdjust="spacingAndGlyphs">95.500</text>
<text x="512.4" y="54.4" font-size="6.6" fill="#606060" text-anchor="start" font-weight="normal" textLength="20" lengthAdjust="spacingAndGlyphs">95.000</text>
<text x="512.4" y="89.2" font-size="6.6" fill="#606060" text-anchor="start" font-weight="normal" textLength="20" lengthAdjust="spacingAndGlyphs">94.500</text>
<text x="512.4" y="124.0" font-size="6.6" fill="#606060" text-anchor="start" font-weight="normal" textLength="20" lengthAdjust="spacingAndGlyphs">94.000</text>
<text x="512.4" y="158.8" font-size="6.6" fill="#606060" text-anchor="start" font-weight="normal" textLength="20" lengthAdjust="spacingAndGlyphs">93.500</text>
<text x="512.4" y="193.5" font-size="6.6" fill="#606060" text-anchor="start" font-weight="normal" textLength="20" lengthAdjust="spacingAndGlyphs">93.000</text>
<text x="512.4" y="228.3" font-size="6.6" fill="#606060" text-anchor="start" font-weight="normal" textLength="20" lengthAdjust="spacingAndGlyphs">92.500</text>
<text x="512.4" y="263.1" font-size="6.6" fill="#606060" text-anchor="start" font-weight="normal" textLength="20" lengthAdjust="spacingAndGlyphs">92.000</text>
<text x="512.4" y="297.9" font-size="6.6" fill="#606060" text-anchor="start" font-weight="normal" textLength="20" lengthAdjust="spacingAndGlyphs">91.500</text>
<text x="512.4" y="332.7" font-size="6.6" fill="#606060" text-anchor="start" font-weight="normal" textLength="20" lengthAdjust="spacingAndGlyphs">91.000</text>
<text x="512.4" y="367.5" font-size="6.6" fill="#606060" text-anchor="start" font-weight="normal" textLength="20" lengthAdjust="spacingAndGlyphs">90.500</text>
<text x="512.4" y="402.3" font-size="6.6" fill="#606060" text-anchor="start" font-weight="normal" textLength="20" lengthAdjust="spacingAndGlyphs">90.000</text>
<text x="512.4" y="437.1" font-size="6.6" fill="#606060" text-anchor="start" font-weight="normal" textLength="20" lengthAdjust="spacingAndGlyphs">89.500</text>
<text x="512.4" y="471.9" font-size="6.6" fill="#606060" text-anchor="start" font-weight="normal" textLength="20" lengthAdjust="spacingAndGlyphs">89.000</text>
<text x="1052" y="9.9" font-size="6.6" fill="#606060" text-anchor="start" font-weight="normal" textLength="19.3" lengthAdjust="spacingAndGlyphs">95.000</text>
<text x="1052" y="28.1" font-size="6.6" fill="#606060" text-anchor="start" font-weight="normal" textLength="19.3" lengthAdjust="spacingAndGlyphs">94.900</text>
<text x="1052" y="46.4" font-size="6.6" fill="#606060" text-anchor="start" font-weight="normal" textLength="19.3" lengthAdjust="spacingAndGlyphs">94.800</text>
<text x="1052" y="64.6" font-size="6.6" fill="#606060" text-anchor="start" font-weight="normal" textLength="19.3" lengthAdjust="spacingAndGlyphs">94.700</text>
<text x="1052" y="82.9" font-size="6.6" fill="#606060" text-anchor="start" font-weight="normal" textLength="19.3" lengthAdjust="spacingAndGlyphs">94.600</text>
<text x="1052" y="101.1" font-size="6.6" fill="#606060" text-anchor="start" font-weight="normal" textLength="19.3" lengthAdjust="spacingAndGlyphs">94.500</text>
<text x="1052" y="119.3" font-size="6.6" fill="#606060" text-anchor="start" font-weight="normal" textLength="19.3" lengthAdjust="spacingAndGlyphs">94.400</text>
<text x="1052" y="137.6" font-size="6.6" fill="#606060" text-anchor="start" font-weight="normal" textLength="19.3" lengthAdjust="spacingAndGlyphs">94.300</text>
<text x="1052" y="155.8" font-size="6.6" fill="#606060" text-anchor="start" font-weight="normal" textLength="19.3" lengthAdjust="spacingAndGlyphs">94.200</text>
<text x="1052" y="174.1" font-size="6.6" fill="#606060" text-anchor="start" font-weight="normal" textLength="19.3" lengthAdjust="spacingAndGlyphs">94.100</text>
<text x="1052" y="192.3" font-size="6.6" fill="#606060" text-anchor="start" font-weight="normal" textLength="19.3" lengthAdjust="spacingAndGlyphs">94.000</text>
<text x="1052" y="210.5" font-size="6.6" fill="#606060" text-anchor="start" font-weight="normal" textLength="19.3" lengthAdjust="spacingAndGlyphs">93.900</text>
<text x="1052" y="228.8" font-size="6.6" fill="#606060" text-anchor="start" font-weight="normal" textLength="19.3" lengthAdjust="spacingAndGlyphs">93.800</text>
<text x="1052" y="247.0" font-size="6.6" fill="#606060" text-anchor="start" font-weight="normal" textLength="19.3" lengthAdjust="spacingAndGlyphs">93.700</text>
<text x="1052" y="265.3" font-size="6.6" fill="#606060" text-anchor="start" font-weight="normal" textLength="19.3" lengthAdjust="spacingAndGlyphs">93.600</text>
<text x="1052" y="283.5" font-size="6.6" fill="#606060" text-anchor="start" font-weight="normal" textLength="19.3" lengthAdjust="spacingAndGlyphs">93.500</text>
<text x="1052" y="301.7" font-size="6.6" fill="#606060" text-anchor="start" font-weight="normal" textLength="19.3" lengthAdjust="spacingAndGlyphs">93.400</text>
<text x="1052" y="320.0" font-size="6.6" fill="#606060" text-anchor="start" font-weight="normal" textLength="19.3" lengthAdjust="spacingAndGlyphs">93.300</text>
<text x="1052" y="338.2" font-size="6.6" fill="#606060" text-anchor="start" font-weight="normal" textLength="19.3" lengthAdjust="spacingAndGlyphs">93.200</text>
<text x="1052" y="356.5" font-size="6.6" fill="#606060" text-anchor="start" font-weight="normal" textLength="19.3" lengthAdjust="spacingAndGlyphs">93.100</text>
<text x="1052" y="374.7" font-size="6.6" fill="#606060" text-anchor="start" font-weight="normal" textLength="19.3" lengthAdjust="spacingAndGlyphs">93.000</text>
<text x="1052" y="392.9" font-size="6.6" fill="#606060" text-anchor="start" font-weight="normal" textLength="19.3" lengthAdjust="spacingAndGlyphs">92.900</text>
<text x="1052" y="411.2" font-size="6.6" fill="#606060" text-anchor="start" font-weight="normal" textLength="19.3" lengthAdjust="spacingAndGlyphs">92.800</text>
<text x="1052" y="429.4" font-size="6.6" fill="#606060" text-anchor="start" font-weight="normal" textLength="19.3" lengthAdjust="spacingAndGlyphs">92.700</text>
<text x="1052" y="447.7" font-size="6.6" fill="#606060" text-anchor="start" font-weight="normal" textLength="19.3" lengthAdjust="spacingAndGlyphs">92.600</text>
<text x="1052" y="465.9" font-size="6.6" fill="#606060" text-anchor="start" font-weight="normal" textLength="19.3" lengthAdjust="spacingAndGlyphs">92.500</text>
<rect x="507" y="91" width="29" height="13" fill="#d6563f"/>
<text x="522.3" y="94.9" font-size="6.5" fill="#fff" text-anchor="middle" font-weight="bold" textLength="19.6" lengthAdjust="spacingAndGlyphs">94.436</text>
<text x="522.8" y="102" font-size="6.5" fill="#fff" text-anchor="middle" font-weight="bold" textLength="19.6" lengthAdjust="spacingAndGlyphs">+4.10%</text>
<rect x="507" y="81.8" width="28" height="9.8" rx="0.8" fill="#0a0af5"/>
<text x="522.3" y="89.1" font-size="6.6" fill="#fff" text-anchor="middle" font-weight="bold" textLength="19.7" lengthAdjust="spacingAndGlyphs">94.510</text>
<rect x="488" y="86.3" width="18.3" height="10.2" rx="1" fill="#d6563f"/>
<text x="497.1" y="93.8" font-size="6.4" fill="#fff" text-anchor="middle" font-weight="normal" textLength="11.2" lengthAdjust="spacingAndGlyphs">DXY</text>
<rect x="507" y="128.7" width="28" height="9.8" rx="0.8" fill="#0a0af5"/>
<text x="521.9" y="136.0" font-size="6.6" fill="#fff" text-anchor="middle" font-weight="bold" textLength="19.2" lengthAdjust="spacingAndGlyphs">93.831</text>
<rect x="1046.5" y="92" width="28" height="9.8" rx="0.8" fill="#0a0af5"/>
<text x="1061.3" y="99.3" font-size="6.6" fill="#fff" text-anchor="middle" font-weight="bold" textLength="18.8" lengthAdjust="spacingAndGlyphs">94.511</text>
<rect x="1046.5" y="105.5" width="28" height="10.1" rx="0.8" fill="#d6563f"/>
<text x="1061.3" y="112.9" font-size="6.6" fill="#fff" text-anchor="middle" font-weight="bold" textLength="19.2" lengthAdjust="spacingAndGlyphs">94.436</text>
<rect x="1046.5" y="141.4" width="28" height="10.1" rx="0.8" fill="#0a0af5"/>
<text x="1061.3" y="148.8" font-size="6.6" fill="#fff" text-anchor="middle" font-weight="bold" textLength="19.2" lengthAdjust="spacingAndGlyphs">94.240</text>
<text x="38.75" y="482.9" font-size="7.2" fill="#3c3c3c" text-anchor="start" font-weight="normal" textLength="10.5" lengthAdjust="spacingAndGlyphs">6月</text>
<text x="113" y="482.9" font-size="7.2" fill="#3c3c3c" text-anchor="start" font-weight="normal" textLength="10.5" lengthAdjust="spacingAndGlyphs">7月</text>
<text x="187.5" y="482.9" font-size="7.2" fill="#3c3c3c" text-anchor="start" font-weight="normal" textLength="10.5" lengthAdjust="spacingAndGlyphs">8月</text>
<text x="262" y="482.9" font-size="7.2" fill="#3c3c3c" text-anchor="start" font-weight="normal" textLength="10.5" lengthAdjust="spacingAndGlyphs">9月</text>
<text x="334.5" y="482.9" font-size="7.2" fill="#3c3c3c" text-anchor="start" font-weight="normal" textLength="13.5" lengthAdjust="spacingAndGlyphs">10月</text>
<text x="405.5" y="482.9" font-size="7.2" fill="#3c3c3c" text-anchor="start" font-weight="normal" textLength="13.75" lengthAdjust="spacingAndGlyphs">11月</text>
<text x="480" y="482.9" font-size="7.2" fill="#3c3c3c" text-anchor="start" font-weight="normal" textLength="13.25" lengthAdjust="spacingAndGlyphs">12月</text>
<text x="551.75" y="482.8" font-size="7.2" fill="#3c3c3c" text-anchor="start" font-weight="normal" textLength="16.25" lengthAdjust="spacingAndGlyphs">15:00</text>
<text x="603.25" y="482.8" font-size="7.2" fill="#3c3c3c" text-anchor="start" font-weight="normal" textLength="6.25" lengthAdjust="spacingAndGlyphs">20</text>
<text x="649.25" y="482.8" font-size="7.2" fill="#3c3c3c" text-anchor="start" font-weight="normal" textLength="15.75" lengthAdjust="spacingAndGlyphs">15:00</text>
<text x="700.5" y="482.8" font-size="7.2" fill="#3c3c3c" text-anchor="start" font-weight="normal" textLength="6.5" lengthAdjust="spacingAndGlyphs">27</text>
<text x="776.25" y="482.8" font-size="7.2" fill="#3c3c3c" text-anchor="start" font-weight="normal" textLength="13.0" lengthAdjust="spacingAndGlyphs">10月</text>
<text x="839.5" y="482.8" font-size="7.2" fill="#3c3c3c" text-anchor="start" font-weight="normal" textLength="3.5" lengthAdjust="spacingAndGlyphs">6</text>
<text x="895" y="482.8" font-size="7.2" fill="#3c3c3c" text-anchor="start" font-weight="normal" textLength="6.25" lengthAdjust="spacingAndGlyphs">11</text>
<text x="940.5" y="482.8" font-size="7.2" fill="#3c3c3c" text-anchor="start" font-weight="normal" textLength="16.25" lengthAdjust="spacingAndGlyphs">15:00</text>
<text x="992.5" y="482.8" font-size="7.2" fill="#3c3c3c" text-anchor="start" font-weight="normal" textLength="6.25" lengthAdjust="spacingAndGlyphs">18</text>
<rect x="5.6" y="4.9" width="32" height="13.6" rx="2" fill="#fff" stroke="#f4766f" stroke-width="0.9"/>
<text x="10" y="14.6" font-size="7.7" fill="#f0453c" text-anchor="start" font-weight="normal" textLength="23" lengthAdjust="spacingAndGlyphs">94.436</text>
<text x="42.8" y="14.6" font-size="7.7" fill="#555" text-anchor="start" font-weight="normal" textLength="18.2" lengthAdjust="spacingAndGlyphs">0.000</text>
<rect x="65.5" y="4.9" width="32.2" height="13.6" rx="2" fill="#fff" stroke="#5b86f5" stroke-width="0.9"/>
<text x="70.2" y="14.6" font-size="7.7" fill="#2a62f5" text-anchor="start" font-weight="normal" textLength="22.8" lengthAdjust="spacingAndGlyphs">94.436</text>
<rect x="545.1" y="4.9" width="32" height="13.6" rx="2" fill="#fff" stroke="#f4766f" stroke-width="0.9"/>
<text x="549.5" y="14.6" font-size="7.7" fill="#f0453c" text-anchor="start" font-weight="normal" textLength="23" lengthAdjust="spacingAndGlyphs">94.436</text>
<text x="582.3" y="14.6" font-size="7.7" fill="#555" text-anchor="start" font-weight="normal" textLength="18.2" lengthAdjust="spacingAndGlyphs">0.000</text>
<rect x="605.0" y="4.9" width="32.2" height="13.6" rx="2" fill="#fff" stroke="#5b86f5" stroke-width="0.9"/>
<text x="609.7" y="14.6" font-size="7.7" fill="#2a62f5" text-anchor="start" font-weight="normal" textLength="22.8" lengthAdjust="spacingAndGlyphs">94.436</text>
<text x="5.5" y="-0.1" font-size="8" fill="#333" text-anchor="start" font-weight="normal">美元指数, 1D, TVC</text>
<text x="296" y="0.2" font-size="8" fill="#d8483c" text-anchor="start" font-weight="normal">94.336  94.563</text>
<text x="5.5" y="-0.1" font-size="8" fill="#333" text-anchor="start" font-weight="normal">美元指数, 240, TVC</text>
<text x="836" y="0.2" font-size="8" fill="#d8483c" text-anchor="start" font-weight="normal">94.476  94.563</text>
<circle cx="203.6" cy="445.3" r="8.2" fill="#fff" filter="url(#sh)"/>
<circle cx="225.1" cy="445.3" r="8.2" fill="#fff" filter="url(#sh)"/>
<circle cx="255.2" cy="445.3" r="8.2" fill="#fff" filter="url(#sh)"/>
<circle cx="284.6" cy="445.3" r="8.2" fill="#fff" filter="url(#sh)"/>
<circle cx="306.3" cy="445.3" r="8.2" fill="#fff" filter="url(#sh)"/>
<circle cx="335.9" cy="445.3" r="8.2" fill="#fff" filter="url(#sh)"/>
<path d="M200.0 445.3H207.2" stroke="#454854" stroke-width="1.2" fill="none"/>
<path d="M221.5 445.3H228.7M225.1 441.7V448.90000000000003" stroke="#454854" stroke-width="1.2" fill="none"/>
<path d="M250.6 443.4V441.2H252.79999999999998M257.6 441.2H259.8V443.4M259.8 447.20000000000005V449.40000000000003H257.6M252.79999999999998 449.40000000000003H250.6V447.20000000000005" stroke="#454854" stroke-width="1.2" fill="none"/>
<path d="M286.40000000000003 441.8L282.70000000000005 445.3L286.40000000000003 448.8" stroke="#454854" stroke-width="1.2" fill="none"/>
<path d="M304.5 441.8L308.2 445.3L304.5 448.8" stroke="#454854" stroke-width="1.2" fill="none"/>
<path d="M332.9 442.4H336.0A3.7 3.7 0 1 1 332.3 446.0" stroke="#454854" stroke-width="1.2" fill="none"/>
<path d="M334.7 440.3L332.8 442.4L334.7 444.4" stroke="#454854" stroke-width="1.2" fill="none"/>
<circle cx="742.8" cy="445.3" r="8.2" fill="#fff" filter="url(#sh)"/>
<circle cx="764.3" cy="445.3" r="8.2" fill="#fff" filter="url(#sh)"/>
<circle cx="794.4" cy="445.3" r="8.2" fill="#fff" filter="url(#sh)"/>
<circle cx="823.8" cy="445.3" r="8.2" fill="#fff" filter="url(#sh)"/>
<circle cx="845.5" cy="445.3" r="8.2" fill="#fff" filter="url(#sh)"/>
<circle cx="875.1" cy="445.3" r="8.2" fill="#fff" filter="url(#sh)"/>
<path d="M739.1999999999999 445.3H746.4" stroke="#454854" stroke-width="1.2" fill="none"/>
<path d="M760.6999999999999 445.3H767.9M764.3 441.7V448.90000000000003" stroke="#454854" stroke-width="1.2" fill="none"/>
<path d="M789.8 443.4V441.2H792.0M796.8 441.2H799.0V443.4M799.0 447.20000000000005V449.40000000000003H796.8M792.0 449.40000000000003H789.8V447.20000000000005" stroke="#454854" stroke-width="1.2" fill="none"/>
<path d="M825.5999999999999 441.8L821.9 445.3L825.5999999999999 448.8" stroke="#454854" stroke-width="1.2" fill="none"/>
<path d="M843.7 441.8L847.4 445.3L843.7 448.8" stroke="#454854" stroke-width="1.2" fill="none"/>
<path d="M872.1 442.4H875.2A3.7 3.7 0 1 1 871.5 446.0" stroke="#454854" stroke-width="1.2" fill="none"/>
<path d="M873.9 440.3L872.0 442.4L873.9 444.4" stroke="#454854" stroke-width="1.2" fill="none"/>
<circle cx="522.9" cy="481.5" r="2.85" fill="none" stroke="#454852" stroke-width="0.95"/>
<line x1="526.15" y1="481.50" x2="527.30" y2="481.50" stroke="#454852" stroke-width="1.1"/>
<line x1="525.20" y1="483.80" x2="526.01" y2="484.61" stroke="#454852" stroke-width="1.1"/>
<line x1="522.90" y1="484.75" x2="522.90" y2="485.90" stroke="#454852" stroke-width="1.1"/>
<line x1="520.60" y1="483.80" x2="519.79" y2="484.61" stroke="#454852" stroke-width="1.1"/>
<line x1="519.65" y1="481.50" x2="518.50" y2="481.50" stroke="#454852" stroke-width="1.1"/>
<line x1="520.60" y1="479.20" x2="519.79" y2="478.39" stroke="#454852" stroke-width="1.1"/>
<line x1="522.90" y1="478.25" x2="522.90" y2="477.10" stroke="#454852" stroke-width="1.1"/>
<line x1="525.20" y1="479.20" x2="526.01" y2="478.39" stroke="#454852" stroke-width="1.1"/>
<rect x="0" y="0" width="0.5" height="489.5" fill="#a9bdf5"/>
<rect x="0.4" y="0" width="1.7" height="489.5" fill="#4f7bf2"/>
<rect x="0.4" y="487.9" width="538.6" height="1.6" fill="#4f7bf2"/>
<rect x="537.35" y="0" width="1.65" height="489.5" fill="#4f7bf2"/>
<text x="10.5" y="505.4" font-size="8.4" fill="#2e2e2e" text-anchor="start" font-weight="normal" textLength="12.5" lengthAdjust="spacingAndGlyphs">1天</text>
<text x="31.25" y="505.4" font-size="8.4" fill="#2e2e2e" text-anchor="start" font-weight="normal" textLength="13.0" lengthAdjust="spacingAndGlyphs">5天</text>
<text x="53" y="505.4" font-size="8.4" fill="#2e2e2e" text-anchor="start" font-weight="normal" textLength="20" lengthAdjust="spacingAndGlyphs">1个月</text>
<text x="82" y="505.4" font-size="8.4" fill="#2e2e2e" text-anchor="start" font-weight="normal" textLength="20.5" lengthAdjust="spacingAndGlyphs">3个月</text>
<text x="111.5" y="505.4" font-size="8.4" fill="#2e2e2e" text-anchor="start" font-weight="normal" textLength="20.5" lengthAdjust="spacingAndGlyphs">6个月</text>
<text x="140.75" y="505.4" font-size="8.4" fill="#2e2e2e" text-anchor="start" font-weight="normal" textLength="14.75" lengthAdjust="spacingAndGlyphs">YTD</text>
<text x="164.5" y="505.4" font-size="8.4" fill="#2e2e2e" text-anchor="start" font-weight="normal" textLength="11.75" lengthAdjust="spacingAndGlyphs">1年</text>
<text x="185" y="505.4" font-size="8.4" fill="#2e2e2e" text-anchor="start" font-weight="normal" textLength="12" lengthAdjust="spacingAndGlyphs">5年</text>
<text x="206.25" y="505.4" font-size="8.4" fill="#2e2e2e" text-anchor="start" font-weight="normal" textLength="16.25" lengthAdjust="spacingAndGlyphs">全部</text>
<rect x="232" y="495" width="1" height="13.5" fill="#e0e3ea"/>
<path d="M243.4 500.6V498.2Q243.4 497.4 244.2 497.4H251.8Q252.6 497.4 252.6 498.2V504.6Q252.6 505.4 251.8 505.4H247.8M245.3 496.1V498M249.4 496.1V498M242 503.5H246.4M244.8 501.6L246.7 503.5L244.6 505.5" stroke="#4b4e59" stroke-width="0.95" fill="none"/>
<path d="M243.9 499.8H252.2" stroke="#9a9ca3" stroke-width="1" fill="none"/>
<text x="913" y="505.3" font-size="8.3" fill="#2e2e2e" text-anchor="start" font-weight="normal" textLength="64" lengthAdjust="spacingAndGlyphs">21:04:41 (UTC-4)</text>
<rect x="986.3" y="495" width="1" height="13.5" fill="#e0e3ea"/>
<text x="997" y="505.3" font-size="8.3" fill="#2e2e2e" text-anchor="start" font-weight="normal" textLength="7.5" lengthAdjust="spacingAndGlyphs">%</text>
<text x="1013.7" y="505.3" font-size="8.3" fill="#2e2e2e" text-anchor="start" font-weight="normal" textLength="10.6" lengthAdjust="spacingAndGlyphs">log</text>
<text x="1033" y="505.3" font-size="8.3" fill="#2e2e2e" text-anchor="start" font-weight="normal" textLength="17" lengthAdjust="spacingAndGlyphs">auto</text>
<path d="M1058 499.40000000000003V497.6Q1058 496.8 1058.8 496.8H1060.8M1064.8 496.8H1066.8Q1067.6 496.8 1067.6 497.6V499.40000000000003M1067.6 504.2V506.0Q1067.6 506.8 1066.8 506.8H1064.8M1060.8 506.8H1058.8Q1058 506.8 1058 506.0V504.2" stroke="#2e2e2e" stroke-width="1.05" fill="none"/>
</svg></body></html>
